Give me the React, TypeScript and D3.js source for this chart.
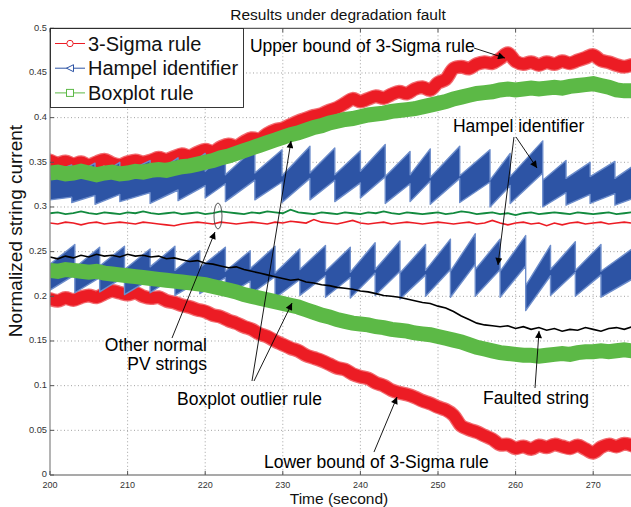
import React, { useEffect, useRef } from "react";
import * as d3 from "d3";

const WIDTH = 631;
const HEIGHT = 507;
const FONT = "'Liberation Sans', Arial, Helvetica, sans-serif";

// one sample per second
const TIME = d3.range(200, 276);

// 3-Sigma rule bounds
const sigmaUpper = [
  0.352, 0.349, 0.351, 0.348, 0.35, 0.347, 0.35, 0.353, 0.349, 0.347,
  0.35, 0.352, 0.35, 0.352, 0.355, 0.353, 0.356, 0.359, 0.357, 0.361,
  0.364, 0.362, 0.367, 0.37, 0.368, 0.373, 0.377, 0.376, 0.382, 0.386,
  0.388, 0.392, 0.396, 0.399, 0.402, 0.404, 0.408, 0.411, 0.416, 0.421,
  0.418, 0.421, 0.424, 0.422, 0.426, 0.429, 0.427, 0.432, 0.434, 0.431,
  0.439, 0.443, 0.455, 0.457, 0.455, 0.46, 0.462, 0.461, 0.466, 0.472,
  0.463, 0.46, 0.462, 0.459, 0.462, 0.46, 0.463, 0.461, 0.464, 0.467,
  0.47, 0.464, 0.462, 0.459, 0.457, 0.459,
];
const sigmaLower = [
  0.197, 0.195, 0.198, 0.196, 0.199, 0.201, 0.199, 0.203, 0.206, 0.204,
  0.202, 0.204, 0.2, 0.198, 0.199, 0.195, 0.193, 0.19, 0.188, 0.185,
  0.183, 0.179, 0.177, 0.173, 0.17, 0.166, 0.163, 0.158, 0.155, 0.15,
  0.146, 0.142, 0.139, 0.134, 0.131, 0.128, 0.124, 0.12, 0.118, 0.113,
  0.11, 0.108, 0.103, 0.1, 0.095, 0.092, 0.09, 0.087, 0.083, 0.08,
  0.076, 0.073, 0.067, 0.055, 0.051, 0.048, 0.044, 0.04, 0.034, 0.034,
  0.03, 0.032, 0.029, 0.033, 0.031, 0.034, 0.032, 0.03, 0.033, 0.029,
  0.025, 0.031, 0.034, 0.032, 0.035, 0.033,
];

// Boxplot rule bounds
const boxUpper = [
  0.338, 0.339, 0.337, 0.338, 0.34, 0.338, 0.336, 0.338, 0.339, 0.337,
  0.338, 0.34, 0.339, 0.341, 0.342, 0.341, 0.343, 0.345, 0.346, 0.348,
  0.35, 0.352, 0.355, 0.357, 0.36, 0.363, 0.366, 0.369, 0.372, 0.375,
  0.378, 0.381, 0.383, 0.386, 0.389, 0.391, 0.394, 0.396, 0.398, 0.399,
  0.401, 0.403, 0.404, 0.405, 0.407, 0.408, 0.409, 0.41, 0.412, 0.414,
  0.416, 0.418, 0.421, 0.423, 0.425, 0.427, 0.428, 0.429, 0.431, 0.432,
  0.431, 0.432, 0.433, 0.432, 0.433, 0.434, 0.433, 0.435, 0.436, 0.437,
  0.438, 0.436, 0.434, 0.431, 0.43, 0.43,
];
const boxLower = [
  0.229, 0.228, 0.23, 0.229, 0.228, 0.227, 0.228, 0.226, 0.225, 0.224,
  0.223, 0.222, 0.221, 0.22, 0.219, 0.218, 0.217, 0.216, 0.215, 0.214,
  0.213, 0.211, 0.209, 0.207, 0.205, 0.202, 0.2, 0.198, 0.196, 0.194,
  0.192, 0.19, 0.188, 0.185, 0.182, 0.179, 0.177, 0.174, 0.172, 0.17,
  0.169, 0.168, 0.166, 0.165, 0.163, 0.162, 0.161, 0.159, 0.158, 0.157,
  0.155, 0.153, 0.151, 0.149, 0.146, 0.143, 0.141, 0.139, 0.137, 0.136,
  0.135, 0.134, 0.134, 0.133, 0.134, 0.135, 0.136, 0.135, 0.137, 0.138,
  0.138, 0.139, 0.138, 0.139, 0.14, 0.139,
];

// measured string currents
const faultedString = [
  0.244, 0.242, 0.245, 0.243, 0.246, 0.244, 0.247, 0.245, 0.246, 0.244,
  0.247, 0.245, 0.246, 0.244, 0.245, 0.242, 0.243, 0.241, 0.239, 0.24,
  0.237, 0.236, 0.234, 0.232, 0.233, 0.23, 0.228, 0.226, 0.224, 0.222,
  0.22, 0.218, 0.219, 0.216, 0.215, 0.213, 0.212, 0.21, 0.209, 0.208,
  0.206, 0.205, 0.203, 0.201, 0.2, 0.199, 0.197, 0.195, 0.193, 0.192,
  0.189, 0.187, 0.183, 0.178, 0.174, 0.17, 0.168, 0.167, 0.166, 0.167,
  0.164, 0.166, 0.163, 0.165, 0.162, 0.164, 0.161, 0.163, 0.162, 0.165,
  0.163, 0.161, 0.164, 0.165, 0.163, 0.166,
];
const normalStringA = [
  0.293, 0.294, 0.292, 0.293, 0.295, 0.293, 0.292, 0.294, 0.293, 0.292,
  0.294, 0.293, 0.295, 0.293, 0.292, 0.293, 0.294, 0.292, 0.293, 0.294,
  0.292, 0.293, 0.295, 0.294, 0.293, 0.292, 0.294, 0.293, 0.295, 0.294,
  0.293, 0.297, 0.294, 0.293, 0.292, 0.294, 0.293, 0.292, 0.294, 0.293,
  0.292, 0.294, 0.293, 0.295, 0.293, 0.292, 0.294, 0.293, 0.292, 0.293,
  0.294, 0.292, 0.293, 0.295, 0.294, 0.292, 0.293, 0.294, 0.292, 0.293,
  0.291, 0.293, 0.294, 0.292, 0.293, 0.294, 0.293, 0.292, 0.294, 0.293,
  0.292, 0.293, 0.294, 0.292, 0.293, 0.294,
];
const normalStringB = [
  0.282, 0.281, 0.283, 0.282, 0.28, 0.282, 0.283, 0.281, 0.282, 0.283,
  0.282, 0.281, 0.283, 0.282, 0.281, 0.28, 0.279, 0.281, 0.282, 0.283,
  0.282, 0.281, 0.283, 0.282, 0.281, 0.282, 0.283, 0.282, 0.281, 0.283,
  0.282, 0.284, 0.283, 0.282, 0.286, 0.283, 0.282, 0.281, 0.283, 0.285,
  0.282, 0.281, 0.282, 0.283, 0.281, 0.282, 0.283, 0.282, 0.281, 0.282,
  0.283, 0.282, 0.281, 0.282, 0.283, 0.281, 0.282, 0.285, 0.282, 0.28,
  0.282, 0.283, 0.281, 0.282, 0.279, 0.282, 0.28, 0.282, 0.283, 0.281,
  0.282, 0.283, 0.281, 0.282, 0.283, 0.282,
];

// Hampel identifier upper bound: sawtooth teeth between successive edges
const hampelUpEdges = [
  200, 202.8, 205.8, 209, 212.9, 216.5, 220, 222.6, 226.4, 229.9, 233.5, 236.7,
  240, 243.2, 246.4, 249, 252.8, 256.7, 259.3, 263.5, 266.5, 269.6, 272.8, 275,
];
const hampelUpTopStart = [
  0.338, 0.335, 0.333, 0.336, 0.334, 0.337, 0.34, 0.336, 0.338, 0.335, 0.338, 0.336,
  0.34, 0.334, 0.336, 0.333, 0.335, 0.33, 0.334, 0.33, 0.332, 0.334, 0.332,
];
const hampelUpTopEnd = [
  0.347, 0.349, 0.35, 0.352, 0.355, 0.36, 0.362, 0.366, 0.364, 0.368, 0.366, 0.363,
  0.37, 0.362, 0.365, 0.368, 0.364, 0.36, 0.374, 0.352, 0.35, 0.351, 0.345,
];
const hampelUpBotStart = [
  0.308, 0.305, 0.303, 0.306, 0.304, 0.307, 0.31, 0.306, 0.308, 0.305, 0.308, 0.306,
  0.31, 0.304, 0.306, 0.303, 0.305, 0.3, 0.304, 0.3, 0.302, 0.304, 0.302,
];
const hampelUpBotEnd = [
  0.311, 0.313, 0.314, 0.316, 0.319, 0.324, 0.326, 0.33, 0.328, 0.332, 0.33, 0.327,
  0.334, 0.326, 0.329, 0.332, 0.328, 0.324, 0.338, 0.316, 0.314, 0.315, 0.309,
];

// Hampel identifier lower bound
const hampelLoEdges = [
  200, 203.2, 206.4, 209.6, 212.9, 216.1, 219.3, 222.6, 225.8, 229, 232.2, 235.5,
  238.7, 241.9, 245.1, 248.4, 251.6, 254.8, 258, 261.3, 264.5, 267.7, 271, 275,
];
const hampelLoTopStart = [
  0.236, 0.232, 0.234, 0.23, 0.233, 0.229, 0.232, 0.228, 0.231, 0.226, 0.23, 0.228,
  0.227, 0.23, 0.226, 0.229, 0.228, 0.23, 0.228, 0.212, 0.23, 0.229, 0.228,
];
const hampelLoTopEnd = [
  0.258, 0.255, 0.256, 0.253, 0.256, 0.251, 0.255, 0.251, 0.256, 0.253, 0.257, 0.255,
  0.26, 0.262, 0.258, 0.264, 0.27, 0.264, 0.268, 0.257, 0.261, 0.258, 0.253,
];
const hampelLoBotStart = [
  0.207, 0.204, 0.205, 0.202, 0.204, 0.201, 0.203, 0.2, 0.202, 0.198, 0.201, 0.199,
  0.198, 0.201, 0.197, 0.2, 0.199, 0.2, 0.199, 0.184, 0.201, 0.2, 0.199,
];
const hampelLoBotEnd = [
  0.224, 0.221, 0.222, 0.219, 0.222, 0.217, 0.221, 0.217, 0.222, 0.219, 0.223, 0.221,
  0.226, 0.228, 0.224, 0.23, 0.236, 0.23, 0.234, 0.223, 0.227, 0.224, 0.219,
];

const X_TICKS = [200, 210, 220, 230, 240, 250, 260, 270];
const X_TICK_LABELS = ["200", "210", "220", "230", "240", "250", "260", "270"];
const Y_TICKS = [0, 0.05, 0.1, 0.15, 0.2, 0.25, 0.3, 0.35, 0.4, 0.45, 0.5];
const Y_TICK_LABELS = ["0", "0.05", "0.1", "0.15", "0.2", "0.25", "0.3", "0.35", "0.4", "0.45", "0.5"];
const LEGEND_LABELS = ["3-Sigma rule", "Hampel identifier", "Boxplot rule"];

const TITLE = "Results under degradation fault";
const X_LABEL = "Time (second)";
const Y_LABEL = "Normalized string current";

// callouts, anchored in data coordinates (time, current)
const LABELS = [
  { text: "Upper bound of 3-Sigma rule", t: 225.77, v: 0.4735, anchor: "start" },
  { text: "Hampel identifier", t: 251.93, v: 0.3839, anchor: "start" },
  { text: "Other normal", t: 220.23, v: 0.1388, anchor: "end" },
  { text: "PV strings", t: 220.23, v: 0.1175, anchor: "end" },
  { text: "Boxplot outlier rule", t: 216.37, v: 0.0784, anchor: "start" },
  { text: "Faulted string", t: 255.8, v: 0.0795, anchor: "start" },
  { text: "Lower bound of 3-Sigma rule", t: 227.58, v: 0.0078, anchor: "start" },
];
const ARROWS = [
  { t0: 254.64, v0: 0.4779, t1: 258.63, v1: 0.4667 },
  { t0: 260.05, v0: 0.3783, t1: 262.76, v1: 0.3436 },
  { t0: 259.79, v0: 0.3783, t1: 257.73, v1: 0.2351 },
  { t0: 215.72, v0: 0.1533, t1: 221.26, v1: 0.272 },
  { t0: 226.03, v0: 0.1052, t1: 231.06, v1: 0.3739 },
  { t0: 226.29, v0: 0.1052, t1: 231.19, v1: 0.1925 },
  { t0: 262.5, v0: 0.0974, t1: 263.02, v1: 0.1612 },
  { t0: 241.75, v0: 0.0257, t1: 244.72, v1: 0.0873 },
];
const RING = { t: 221.65, v: 0.2899 };

type Tooth = { t: number; top: number; bot: number };

function buildTeeth(edges: number[], topS: number[], topE: number[], botS: number[], botE: number[]): Tooth[] {
  const pts: Tooth[] = [];
  for (let i = 0; i < edges.length - 1; i++) {
    pts.push({ t: edges[i], top: topS[i], bot: botS[i] });
    pts.push({ t: edges[i + 1], top: topE[i], bot: botE[i] });
  }
  return pts;
}

export default function App() {
  const ref = useRef<SVGSVGElement | null>(null);

  useEffect(() => {
    const svg = d3.select(ref.current);
    svg.selectAll("*").remove();

    const left = 50;
    const right = 632;
    const top = 28.3;
    const bottom = 475;

    const x = d3.scaleLinear().domain([200, 275]).range([left, right]);
    const y = d3.scaleLinear().domain([0, 0.5]).range([bottom, top]);

    const defs = svg.append("defs");
    defs.append("clipPath").attr("id", "plot-clip")
      .append("rect").attr("x", left).attr("y", top).attr("width", right - left).attr("height", bottom - top);
    defs.append("marker")
      .attr("id", "head")
      .attr("markerUnits", "userSpaceOnUse")
      .attr("viewBox", "0 0 10 10")
      .attr("markerWidth", 10)
      .attr("markerHeight", 7)
      .attr("refX", 10)
      .attr("refY", 5)
      .attr("orient", "auto")
      .append("path").attr("d", "M0,0 L10,5 L0,10 z").attr("fill", "#000");

    svg.append("rect").attr("width", WIDTH).attr("height", HEIGHT).attr("fill", "#fff");

    // grid
    const grid = svg.append("g").attr("stroke", "#8a8a8a").attr("stroke-width", 0.8).attr("stroke-dasharray", "1 2.5");
    X_TICKS.slice(1).forEach((t) => {
      grid.append("line").attr("x1", x(t)).attr("x2", x(t)).attr("y1", top).attr("y2", bottom);
    });
    Y_TICKS.slice(1, -1).forEach((v) => {
      grid.append("line").attr("x1", left).attr("x2", right).attr("y1", y(v)).attr("y2", y(v));
    });

    const plot = svg.append("g").attr("clip-path", "url(#plot-clip)");
    const series = (vals: number[]) => TIME.map((t, i) => [t, vals[i]] as [number, number]);
    const smooth = d3.line<[number, number]>().x((d) => x(d[0])).y((d) => y(d[1])).curve(d3.curveCatmullRom.alpha(0.5));
    const straight = d3.line<[number, number]>().x((d) => x(d[0])).y((d) => y(d[1]));

    // 3-Sigma rule bounds
    [sigmaUpper, sigmaLower].forEach((vals) => {
      plot.append("path").attr("d", smooth(series(vals)))
        .attr("fill", "none").attr("stroke", "#f26b70").attr("stroke-width", 14)
        .attr("stroke-linejoin", "round").attr("stroke-linecap", "round");
      plot.append("path").attr("d", smooth(series(vals)))
        .attr("fill", "none").attr("stroke", "#ec1c24").attr("stroke-width", 11.5)
        .attr("stroke-linejoin", "round").attr("stroke-linecap", "round");
    });

    // Hampel identifier bounds
    const band = d3.area<Tooth>().x((d) => x(d.t)).y0((d) => y(d.bot)).y1((d) => y(d.top));
    [
      buildTeeth(hampelUpEdges, hampelUpTopStart, hampelUpTopEnd, hampelUpBotStart, hampelUpBotEnd),
      buildTeeth(hampelLoEdges, hampelLoTopStart, hampelLoTopEnd, hampelLoBotStart, hampelLoBotEnd),
    ].forEach((pts) => {
      plot.append("path").attr("d", band(pts))
        .attr("fill", "#2d54a5").attr("stroke", "#6d8dcb").attr("stroke-width", 1.4)
        .attr("stroke-linejoin", "round");
    });

    // Boxplot rule bounds
    [boxUpper, boxLower].forEach((vals) => {
      plot.append("path").attr("d", straight(series(vals)))
        .attr("fill", "none").attr("stroke", "#5cb946").attr("stroke-width", 15)
        .attr("stroke-linejoin", "miter");
    });

    // individual strings
    plot.append("path").attr("d", straight(series(normalStringA)))
      .attr("fill", "none").attr("stroke", "#128a3e").attr("stroke-width", 1.8);
    plot.append("path").attr("d", straight(series(normalStringB)))
      .attr("fill", "none").attr("stroke", "#ec1c24").attr("stroke-width", 1.6);
    plot.append("path").attr("d", straight(series(faultedString)))
      .attr("fill", "none").attr("stroke", "#000").attr("stroke-width", 1.6);

    // axes box
    const axes = svg.append("g").attr("fill", "none");
    axes.append("line").attr("x1", left).attr("x2", left).attr("y1", top).attr("y2", bottom).attr("stroke", "#8c8c8c").attr("stroke-width", 1.3);
    axes.append("line").attr("x1", left).attr("x2", right).attr("y1", bottom).attr("y2", bottom).attr("stroke", "#8c8c8c").attr("stroke-width", 1.3);
    axes.append("line").attr("x1", left).attr("x2", right).attr("y1", top).attr("y2", top).attr("stroke", "#333").attr("stroke-width", 1);
    X_TICKS.forEach((t) => {
      axes.append("line").attr("x1", x(t)).attr("x2", x(t)).attr("y1", bottom).attr("y2", bottom - 4).attr("stroke", "#555");
      axes.append("line").attr("x1", x(t)).attr("x2", x(t)).attr("y1", top).attr("y2", top + 4).attr("stroke", "#555");
    });
    Y_TICKS.forEach((v) => {
      axes.append("line").attr("x1", left).attr("x2", left + 4).attr("y1", y(v)).attr("y2", y(v)).attr("stroke", "#555");
    });

    const text = svg.append("g").attr("font-family", FONT).attr("fill", "#111");
    X_TICKS.forEach((t, i) => {
      text.append("text").attr("x", x(t)).attr("y", bottom + 12.5).attr("text-anchor", "middle")
        .attr("font-size", 9).attr("fill", "#333").text(X_TICK_LABELS[i]);
    });
    Y_TICKS.forEach((v, i) => {
      text.append("text").attr("x", left - 3).attr("y", y(v) + 2.3).attr("text-anchor", "end")
        .attr("font-size", 9.3).attr("fill", "#333").text(Y_TICK_LABELS[i]);
    });
    text.append("text").attr("x", 338).attr("y", 20).attr("text-anchor", "middle").attr("font-size", 15.5).text(TITLE);
    text.append("text").attr("x", 339).attr("y", 503.8).attr("text-anchor", "middle").attr("font-size", 15.5).text(X_LABEL);
    text.append("text").attr("transform", "translate(22,231) rotate(-90)").attr("text-anchor", "middle")
      .attr("font-size", 19).text(Y_LABEL);

    // callouts
    const notes = svg.append("g").attr("font-family", FONT).attr("font-size", 17.5).attr("fill", "#000");
    LABELS.forEach((l) => {
      notes.append("text").attr("x", x(l.t)).attr("y", y(l.v)).attr("text-anchor", l.anchor).text(l.text);
    });
    ARROWS.forEach((a) => {
      notes.append("line").attr("x1", x(a.t0)).attr("y1", y(a.v0)).attr("x2", x(a.t1)).attr("y2", y(a.v1))
        .attr("stroke", "#000").attr("stroke-width", 0.9).attr("marker-end", "url(#head)");
    });
    notes.append("ellipse").attr("cx", x(RING.t)).attr("cy", y(RING.v)).attr("rx", 4).attr("ry", 13)
      .attr("fill", "none").attr("stroke", "#444").attr("stroke-width", 0.9);

    // legend
    const lg = svg.append("g").attr("font-family", FONT);
    lg.append("rect").attr("x", left + 0.5).attr("y", top + 0.2).attr("width", 193).attr("height", 79)
      .attr("fill", "#fff").attr("stroke", "#222").attr("stroke-width", 0.9);
    const legendColors = ["#ec1c24", "#2d54a5", "#5cb946"];
    LEGEND_LABELS.forEach((label, i) => {
      const cy = 43.5 + i * 24.7;
      const c = legendColors[i];
      lg.append("line").attr("x1", 55).attr("x2", 85).attr("y1", cy).attr("y2", cy).attr("stroke", c).attr("stroke-width", 1);
      if (i === 0) {
        lg.append("circle").attr("cx", 70).attr("cy", cy).attr("r", 3.2).attr("fill", "#fff").attr("stroke", c);
      } else if (i === 1) {
        lg.append("path").attr("d", `M${66.5},${cy} L${73.5},${cy - 3.5} L${73.5},${cy + 3.5} Z`).attr("fill", "#fff").attr("stroke", c);
      } else {
        lg.append("rect").attr("x", 66.5).attr("y", cy - 3.5).attr("width", 7).attr("height", 7).attr("fill", "#fff").attr("stroke", c);
      }
      lg.append("text").attr("x", 88).attr("y", cy + 7).attr("font-size", 20).attr("fill", "#111").text(label);
    });
  }, []);

  return (
    <svg
      ref={ref}
      width={WIDTH}
      height={HEIGHT}
      style={{ position: "absolute", left: 0, top: 0, display: "block" }}
    />
  );
}
